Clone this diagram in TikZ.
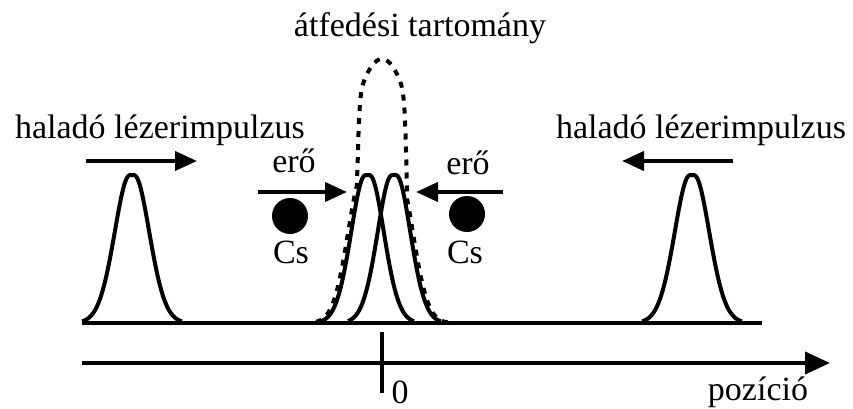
\documentclass[tikz,border=0pt]{standalone}
\usepackage{fontspec}
\setmainfont{Liberation Serif}
\usetikzlibrary{arrows.meta}
\begin{document}
\begin{tikzpicture}[x=1pt,y=-1pt,
  declare function={gg(\t,\s)=exp(-((\t*\t)/(2*\s*\s))*((\t*\t)/(\t*\t+36)));
                    ee(\t)=264*(1-0.16*(\t/25)^2)/(1+pow(min(abs(\t/25.5),1.6),20));},
  lbl/.style={font=\fontsize{34}{40}\selectfont, inner sep=0pt, anchor=base},
  pulse/.style={line width=4pt, line join=round},
  envelope/.style={line width=4pt, dash pattern=on 6pt off 7pt},
  arr/.style={line width=4pt, -{Triangle[length=22pt,width=19pt]}},
  ax/.style={line width=4pt, -{Triangle[length=25pt,width=22pt]}}]
\useasboundingbox (0,0) rectangle (853,409);
% texts
\node[lbl] (tl) at (160,139) {haladó lézerimpulzus};
\node[lbl] (tr) at (701,139) {haladó lézerimpulzus};
\node[lbl] (to) at (420,37) {átfedési tartomány};
\node[lbl] (el) at (294,172) {erő};
\node[lbl] (er) at (468,174) {erő};
\node[lbl] (cl) at (291,263) {Cs};
\node[lbl] (cr) at (465,263) {Cs};
\node[lbl] (zero) at (400,403) {0};
\node[lbl] (poz) at (758,400) {pozíció};
% atoms
\node[circle, fill=black, minimum size=36pt, inner sep=0pt] (bl) at (290,216) {};
\node[circle, fill=black, minimum size=36pt, inner sep=0pt] (br) at (467,214) {};
% arrow coordinates
\coordinate (a1s) at (86,161);  \coordinate (a1e) at (197,161);
\coordinate (a2s) at (733,161); \coordinate (a2e) at (622,161);
\coordinate (f1s) at (258,192); \coordinate (f1e) at (347,192);
\coordinate (f2s) at (503,192); \coordinate (f2e) at (416,192);
\coordinate (xs) at (82,363);   \coordinate (xe) at (830,363);
\coordinate (ts) at (382,332);  \coordinate (te) at (382,393);
\coordinate (bs) at (82,323);   \coordinate (be) at (762,323);
% baseline
\draw[line width=4pt] (bs) -- (be);
% envelope (dashed)
\draw[envelope] plot[domain=316:448, samples=150]
  (\x, {323-max(ee(\x-382),148*gg(\x-364.5,15.5),148*gg(\x-396.5,15.5))});
% pulses
\draw[pulse] plot[domain=82:182, samples=100] (\x, {323-148*gg(\x-132,16.5)});
\draw[pulse] plot[domain=642:742, samples=100] (\x, {323-148*gg(\x-692,16.5)});
\draw[pulse] plot[domain=321:414, samples=100] (\x, {323-148*gg(\x-367.5,15.5)});
\draw[pulse] plot[domain=348:441, samples=100] (\x, {323-148*gg(\x-394,15.5)});
% arrows
\draw[arr] (a1s) -- (a1e);
\draw[arr] (a2s) -- (a2e);
\draw[arr] (f1s) -- (f1e);
\draw[arr] (f2s) -- (f2e);
% axis
\draw[ax] (xs) -- (xe);
\draw[line width=4pt] (ts) -- (te);
\end{tikzpicture}
\end{document}
